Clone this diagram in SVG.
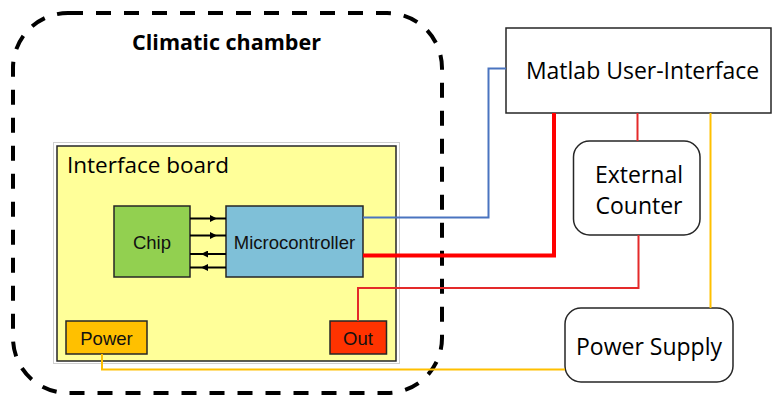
<svg xmlns="http://www.w3.org/2000/svg" width="772" height="398" viewBox="0 0 772 398">
<style>
.cal{font-family:"Open Sans","Noto Sans",sans-serif;fill:#000}
.ari{font-family:"Liberation Sans",Arial,sans-serif;fill:#111}
.box{stroke:#262626;stroke-width:1.5}
.wire{fill:none}
</style>
<defs>
<marker id="ah" viewBox="0 0 10 10" refX="10" refY="5" markerWidth="8" markerHeight="7" markerUnits="userSpaceOnUse" orient="auto">
<path d="M0,0 L10,5 L0,10 z" fill="#000"/>
</marker>
</defs>
<rect width="772" height="398" fill="#fff"/>

<g id="climatic-chamber">
<rect x="13" y="13" width="429" height="380" rx="55" ry="55" fill="none" stroke="#000" stroke-width="4" stroke-dasharray="15 13"/>
<text class="cal" x="226.5" y="50" font-size="21.5" font-weight="bold" text-anchor="middle">Climatic chamber</text>
</g>

<g id="interface-board">
<rect x="53.5" y="142.5" width="346" height="221" fill="#fff" stroke="#cfcfcf" stroke-width="1"/>
<rect x="57" y="146" width="339" height="215" fill="#FFFF99" class="box"/>
<text class="cal" x="67" y="173" font-size="22.5">Interface board</text>
</g>

<g id="chip">
<rect x="114" y="206" width="76" height="71" fill="#92D050" class="box"/>
<text class="ari" x="152" y="249" font-size="18.5" text-anchor="middle">Chip</text>
</g>

<g id="microcontroller">
<rect x="226" y="206" width="137" height="71" fill="#7FC0D8" class="box"/>
<text class="ari" x="294.5" y="249" font-size="18.5" text-anchor="middle">Microcontroller</text>
</g>

<g id="power">
<rect x="66" y="321" width="81" height="33" fill="#FFC000" class="box"/>
<text class="ari" x="106.5" y="345" font-size="18.5" text-anchor="middle">Power</text>
</g>

<g id="out">
<rect x="330" y="321" width="56.5" height="33" fill="#FF3300" class="box"/>
<text class="ari" x="358" y="345" font-size="18.5" text-anchor="middle">Out</text>
</g>

<g id="matlab-ui">
<rect x="506" y="28" width="265" height="85" fill="#fff" class="box"/>
<text class="cal" x="642.5" y="79" font-size="23" text-anchor="middle">Matlab User-Interface</text>
</g>

<g id="external-counter">
<rect x="573.5" y="141" width="126.5" height="94" rx="16" ry="16" fill="#fff" class="box"/>
<text class="cal" x="639" y="183" font-size="23" text-anchor="middle">External</text>
<text class="cal" x="639" y="214" font-size="23" text-anchor="middle">Counter</text>
</g>

<g id="power-supply">
<rect x="565" y="308" width="168" height="74" rx="16" ry="16" fill="#fff" class="box"/>
<text class="cal" x="649" y="355" font-size="23" text-anchor="middle">Power Supply</text>
</g>

<g id="connectors">
<path class="wire" d="M190 218.5 H217" stroke="#000" stroke-width="2" marker-end="url(#ah)"/>
<path class="wire" d="M217 218.5 H226" stroke="#000" stroke-width="2"/>
<path class="wire" d="M190 235.5 H217" stroke="#000" stroke-width="2" marker-end="url(#ah)"/>
<path class="wire" d="M217 235.5 H226" stroke="#000" stroke-width="2"/>
<path class="wire" d="M226 254 H201" stroke="#000" stroke-width="2" marker-end="url(#ah)"/>
<path class="wire" d="M201 254 H190" stroke="#000" stroke-width="2"/>
<path class="wire" d="M226 267.5 H201" stroke="#000" stroke-width="2" marker-end="url(#ah)"/>
<path class="wire" d="M201 267.5 H190" stroke="#000" stroke-width="2"/>

<path class="wire" d="M363 217.5 H488.5 V68.5 H506" stroke="#4A74C0" stroke-width="2"/>
<path class="wire" d="M363 255.5 H554 V113" stroke="#FF0000" stroke-width="4"/>
<path class="wire" d="M358 321 V288 H638.5 V235" stroke="#E42A2A" stroke-width="2"/>
<path class="wire" d="M637.5 113 V141" stroke="#E42A2A" stroke-width="2"/>
<path class="wire" d="M102 354 V369.5 H565" stroke="#FFC000" stroke-width="2"/>
<path class="wire" d="M710.5 113 V308" stroke="#FFC000" stroke-width="2"/>
</g>
</svg>
